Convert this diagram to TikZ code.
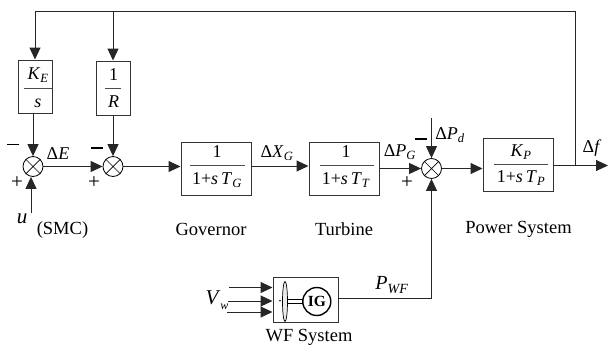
\documentclass[tikz,border=0pt]{standalone}
\usepackage{fontspec}
\setmainfont{Liberation Serif}
\usetikzlibrary{arrows.meta,calc}
\newcommand{\Sb}[1]{\textsubscript{\textit{#1}}}
\newcommand{\SbLow}[1]{\raisebox{-5pt}{\fontsize{12}{12}\selectfont\textit{#1}}}
\newcommand{\It}[1]{\textit{#1}}
\tikzset{
  x=1pt,y=-1pt,
  wire/.style={line width=1pt,draw=black!85},
  arr/.style={wire,-{Triangle[length=12pt,width=11pt]}},
  blockbox/.style={draw=black!80,line width=1pt,minimum width=#1,inner sep=0pt,anchor=center},
  sumnode/.style={circle,draw=black,line width=0.8pt,minimum size=20pt,inner sep=0pt},
  lbl/.style={inner sep=0pt,font=\fontsize{18.5}{20}\selectfont},
  mlbl/.style={inner sep=0pt,font=\fontsize{18}{20}\selectfont},
  plus/.style={inner sep=0pt,font=\fontsize{21}{21}\selectfont},
  sign/.style={line width=1.6pt,draw=black},
  frac/.style={line width=0.7pt,draw=black!70},
}
\begin{document}
\begin{tikzpicture}
\useasboundingbox (0,0) rectangle (608,346);
% blocks
\node[blockbox=34pt,minimum height=53pt] (ke) at (35,86.5) {};
\node[blockbox=34pt,minimum height=54pt] (rr) at (113,88) {};
\node[blockbox=70pt,minimum height=53pt] (gov) at (216,168.5) {};
\node[blockbox=70pt,minimum height=53pt] (tur) at (344,168.5) {};
\node[blockbox=70pt,minimum height=53pt] (pow) at (518,164.5) {};
\node[blockbox=65pt,minimum height=45pt] (wf) at (305.5,299.5) {};
% sums
\node[sumnode] (s1) at (33,166.5) {};
\node[sumnode] (s2) at (113,166.5) {};
\node[sumnode] (s3) at (431.5,168.5) {};
\foreach \s in {s1,s2,s3}{
  \draw[line width=0.7pt] (\s.north west) -- (\s.south east) (\s.north east) -- (\s.south west);
}
% free ends
\coordinate (fbtop) at (575.5,11);
\coordinate (out) at (608,165.5);
\coordinate (fbnode) at (575.5,165.5);
\coordinate (uin) at (31,213);
\coordinate (pd) at (431.5,118);
\coordinate (v1) at (229,287.5);
\coordinate (v2) at (228,301);
\coordinate (v3) at (227,312);
\coordinate (wfo) at (338,298.5);
% connectors
\draw[arr] (fbnode) -- (fbtop) -| (ke.north);
\draw[arr] (rr.north |- fbtop) -- (rr.north);
\draw[arr] (ke.south -| s1.north) -- (s1.north);
\draw[arr] (rr.south -| s2.north) -- (s2.north);
\draw[arr] (uin) -- (uin |- s1.south);
\draw[arr] (s1.east) -- (s2.west);
\draw[arr] (s2.east) -- (s2.east -| gov.west);
\coordinate (gt) at (251,166);
\draw[arr] (gt) -- (gt -| tur.west);
\draw[arr] (tur.east |- s3.west) -- (s3.west);
\draw[arr] (pd) -- (s3.north);
\draw[arr] (s3.east) -- (s3.east -| pow.west);
\draw[arr] (pow.east |- out) -- (out);
\draw[arr] (wfo) -| (s3.south);
\draw[arr] (v1) -- (v1 -| wf.west);
\draw[arr] (v2) -- (v2 -| wf.west);
\draw[arr] (v3) -- (v3 -| wf.west);
% fraction lines
\draw[frac] (24,88) -- (52,88);
\draw[frac] (105,88) -- (121,88);
\draw[frac] (190,165) -- (245,165);
\draw[frac] (320,165) -- (374,165);
\draw[frac] (494,164) -- (548,164);
% fraction text
\node[mlbl] (ken) at (38,75) {\It{K}\Sb{E}};
\node[mlbl] (ked) at (38,103) {\It{s}};
\node[mlbl] (rn) at (113.5,75) {1};
\node[mlbl] (rd) at (113.5,102) {\It{R}};
\node[mlbl] (gn) at (217,152) {1};
\node[mlbl] (gd) at (217,180) {1+\It{s\,T}\Sb{G}};
\node[mlbl] (tn) at (346,152) {1};
\node[mlbl] (td) at (346,180) {1+\It{s\,T}\Sb{T}};
\node[mlbl] (pn) at (521,152) {\It{K}\Sb{P}};
\node[mlbl] (pd2) at (521,178) {1+\It{s\,T}\Sb{P}};
% wind turbine icon
\node[circle,draw=black,line width=1.4pt,minimum size=28pt,inner sep=0pt,font=\fontsize{15.5}{15.5}\selectfont\bfseries] (ig) at (316.8,301.5) {IG};
\draw[line width=0.7pt,fill=black!8] (285,301.5) ellipse [x radius=2.5,y radius=20];
\draw[line width=0.6pt] (287,299.5) -- (303,299.5) (287,303.3) -- (303,303.3);
\fill (280,300.7) circle (0.9);
% signs
\draw[sign] (7,144.5) -- (19,144.5);
\draw[sign] (91,148) -- (103,148);
\draw[sign] (415,139) -- (427,139);
\node[plus] (p1) at (17,183) {+};
\node[plus] (p2) at (94,182.5) {+};
\node[plus] (p3) at (407,182.5) {+};
% labels
\node[mlbl] (de) at (58,154) {Δ\It{E}};
\node[mlbl,font=\fontsize{21}{21}\selectfont] (ul) at (22,219) {\It{u}};
\node[lbl] (smc) at (62.5,230) {(SMC)};
\node[lbl] (lg) at (211,229) {Governor};
\node[lbl] (lt) at (344,229) {Turbine};
\node[lbl] (lp) at (518.5,229) {Power System};
\node[lbl] (lw) at (309,337) {WF System};
\node[mlbl] (dx) at (277,153) {Δ\It{X}\Sb{G}};
\node[mlbl] (dpg) at (400,152) {Δ\It{P}\Sb{G}};
\node[mlbl] (dpd) at (450,135) {Δ\It{P}\Sb{d}};
\node[mlbl] (df) at (592,148) {Δ\It{f}};
\node[mlbl,font=\fontsize{20}{20}\selectfont] (pwf) at (392,285) {\It{P}\Sb{WF}};
\node[mlbl,font=\fontsize{21}{21}\selectfont] (vw) at (217,300) {\It{V}\SbLow{w}};
\end{tikzpicture}
\end{document}
